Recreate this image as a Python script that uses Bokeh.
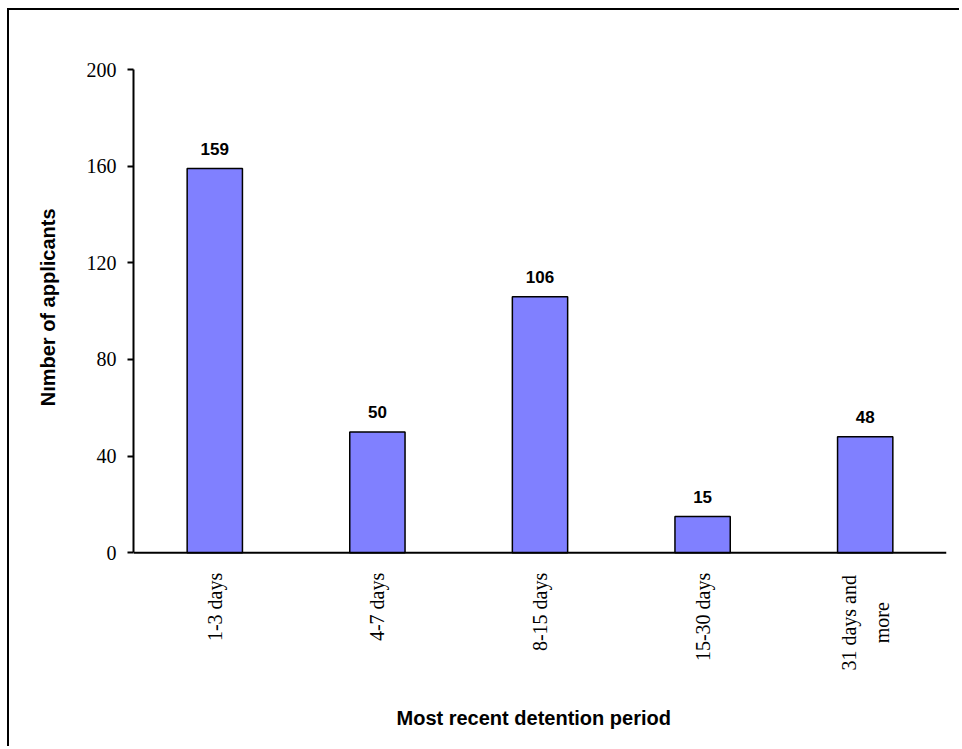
from bokeh.plotting import figure
from bokeh.models import (ColumnDataSource, FactorRange, Range1d, FixedTicker,
                          LabelSet, Span, Title)
from bokeh.core.properties import value
from bokeh.embed import file_html
from bokeh.resources import INLINE
import math

# Detention periods and number of applicants in each
periods = ["1-3 days", "4-7 days", "8-15 days", "15-30 days", "31 days and more"]
applicants = [159, 50, 106, 15, 48]
period_labels = {"31 days and more": "31 days and\nmore"}
y_ticks = [0, 40, 80, 120, 160, 200]

source = ColumnDataSource(dict(
    period=periods,
    count=applicants,
    label=[str(v) for v in applicants],
))

# category names under the baseline: single-line ones and wrapped ones
tick_text = [period_labels.get(c, c) for c in periods]
single = ColumnDataSource(dict(
    period=[c for c, t in zip(periods, tick_text) if "\n" not in t],
    text=[t for t in tick_text if "\n" not in t],
    base=[0 for t in tick_text if "\n" not in t],
))
wrapped = ColumnDataSource(dict(
    period=[c for c, t in zip(periods, tick_text) if "\n" in t],
    text=[t for t in tick_text if "\n" in t],
    base=[0 for t in tick_text if "\n" in t],
))

# the plot area runs below zero so the category names have room in it
p = figure(
    width=952, height=738,
    x_range=FactorRange(*periods, range_padding=0),
    y_range=Range1d(-57, 200),
    output_backend="svg", toolbar_location=None,
    min_border_left=124, min_border_right=15,
    min_border_top=59, min_border_bottom=58,
    background_fill_color="white", border_fill_color="white",
)
p.styles = {
    "margin-left": "7px", "margin-top": "8px",
    "border-left": "2px solid black", "border-top": "2px solid black",
}
p.outline_line_color = None
p.grid.visible = False
p.xaxis.visible = False

p.vbar(x="period", top="count", width=0.34, source=source,
       fill_color="#8080FF", line_color="black", line_width=1.5)

# baseline of the bars
p.add_layout(Span(location=0, dimension="width", line_color="black",
                  line_width=2))

# value labels above bars
p.add_layout(LabelSet(x="period", y="count", text="label", source=source,
                      text_align="center", text_baseline="alphabetic",
                      y_offset=14,
                      text_font=value("Liberation Sans"), text_font_style="bold",
                      text_font_size="17px", text_color="black"))

tick_style = dict(angle=math.pi / 2, text_baseline="middle",
                  text_font=value("Liberation Serif"), text_font_size="20px",
                  text_color="black", text_line_height=1.5)
p.text(x="period", y="base", text="text", source=single,
       text_align="right", y_offset=20, **tick_style)
p.text(x="period", y="base", text="text", source=wrapped,
       text_align="center", y_offset=70, **tick_style)

# Y axis
ya = p.yaxis[0]
ya.bounds = (0, 200)
ya.ticker = FixedTicker(ticks=y_ticks)
ya.major_tick_out = 6
ya.major_tick_in = 0
ya.minor_tick_line_color = None
ya.axis_line_width = 2
ya.major_tick_line_width = 2
ya.major_label_text_font = "Liberation Serif"
ya.major_label_text_font_size = "20px"
ya.major_label_text_color = "black"
ya.major_label_standoff = 11

# axis titles
p.add_layout(Title(text="Nımber of applicants", align="right", offset=139,
                   text_font="Liberation Sans", text_font_style="bold",
                   text_font_size="20px", text_color="black", standoff=50),
             "left")
p.add_layout(Title(text="Most recent detention period", align="left",
                   offset=263,
                   text_font="Liberation Sans", text_font_style="bold",
                   text_font_size="20px", text_color="black", standoff=29),
             "below")

open("out.html", "w").write(file_html(p, INLINE))
